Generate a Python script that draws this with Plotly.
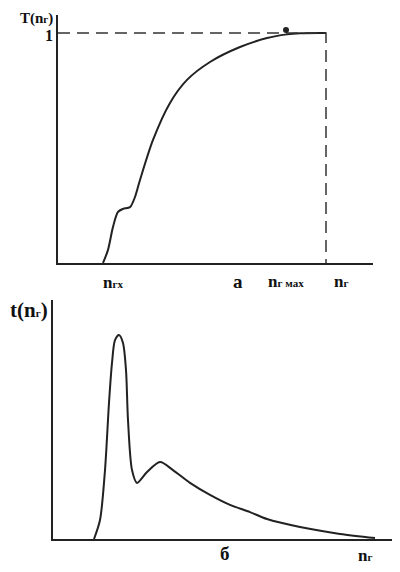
import plotly.graph_objects as go

# Top chart (a): cumulative curve T(n_г)
top_x = [45, 50, 55, 60, 65, 72, 77, 82, 95, 112, 129, 152, 182, 209, 229, 242, 268]
top_y = [0, 0.057, 0.157, 0.222, 0.235, 0.243, 0.287, 0.361, 0.535, 0.696, 0.796,
         0.874, 0.939, 0.978, 0.994, 0.999, 1.0]
top_nmax = 268
top_dot = (228, 1.013)

# Bottom chart (б): density t(n_г)
bot_x = [41, 47, 52, 56, 59, 62, 66, 70, 73, 75, 79, 84, 94, 107, 120, 137, 157, 177,
         197, 214, 247, 287, 322]
bot_y = [0, 0.093, 0.338, 0.667, 0.863, 0.975, 1.0, 0.961, 0.828, 0.583, 0.338, 0.275,
         0.328, 0.377, 0.338, 0.275, 0.216, 0.167, 0.132, 0.098, 0.059, 0.025, 0.005]

OFF = 8  # page body margin
W, H = 400 - OFF, 572 - OFF
def px(x): return (x - OFF) / W
def py(y): return (H - (y - OFF)) / H

fig = go.Figure()
fig.add_trace(go.Scatter(x=top_x, y=top_y, mode="lines", line=dict(color="#222", width=2, shape="spline", smoothing=0.8),
                         xaxis="x", yaxis="y", showlegend=False, hoverinfo="skip"))
fig.add_trace(go.Scatter(x=[0, top_nmax, top_nmax], y=[1, 1, 0], mode="lines",
                         line=dict(color="#333", width=1.5, dash="12px,7px"),
                         xaxis="x", yaxis="y", showlegend=False, hoverinfo="skip"))
fig.add_trace(go.Scatter(x=[top_dot[0]], y=[top_dot[1]], mode="markers",
                         marker=dict(color="#222", size=6), xaxis="x", yaxis="y",
                         showlegend=False, hoverinfo="skip"))
fig.add_trace(go.Scatter(x=bot_x, y=bot_y, mode="lines", line=dict(color="#222", width=2, shape="spline", smoothing=0.8),
                         xaxis="x2", yaxis="y2", showlegend=False, hoverinfo="skip"))

ax = dict(showgrid=False, zeroline=False, showticklabels=False, ticks="",
          showline=True, linecolor="#222", linewidth=2, mirror=False, fixedrange=True)

fig.update_layout(
    width=W, height=H, margin=dict(l=0, r=0, t=0, b=0),
    paper_bgcolor="white", plot_bgcolor="white",
    xaxis=dict(**ax, domain=[px(58), px(373)], range=[0, 315], anchor="y"),
    yaxis=dict(**ax, domain=[py(263), py(15)], range=[0, 248 / 230], anchor="x"),
    xaxis2=dict(**ax, domain=[px(53), 1.0], range=[0, 347], anchor="y2"),
    yaxis2=dict(**ax, domain=[py(539), py(300)], range=[0, 239 / 204], anchor="x2"),
)

F = "Liberation Serif"
sub = lambda s: "<span style='font-size:11px'>" + s + "</span>"
def lab(x, y, text, size=15, xanchor="center"):
    fig.add_annotation(x=px(x), y=py(y), xref="paper", yref="paper", text=text,
                       showarrow=False, xanchor=xanchor, yanchor="middle",
                       font=dict(family=F, size=size, color="#111"))

lab(18, 19, "<b>T(n" + sub("г") + ")</b>", 15, "left")
lab(55, 36, "<b>1</b>", 16, "right")
lab(113, 282, "<b>n" + sub("гх") + "</b>", 17)
lab(238, 281, "<b>а</b>", 19)
lab(286, 281, "<b>n" + sub("г мах") + "</b>", 17)
lab(341, 281, "<b>n" + sub("г") + "</b>", 17)
lab(8, 310, "<b>t(n" + sub("г") + ")</b>", 21, "left")
lab(225, 553, "<b>б</b>", 19)
lab(365, 555, "<b>n" + sub("г") + "</b>", 17)

fig.write_html("out.html")
